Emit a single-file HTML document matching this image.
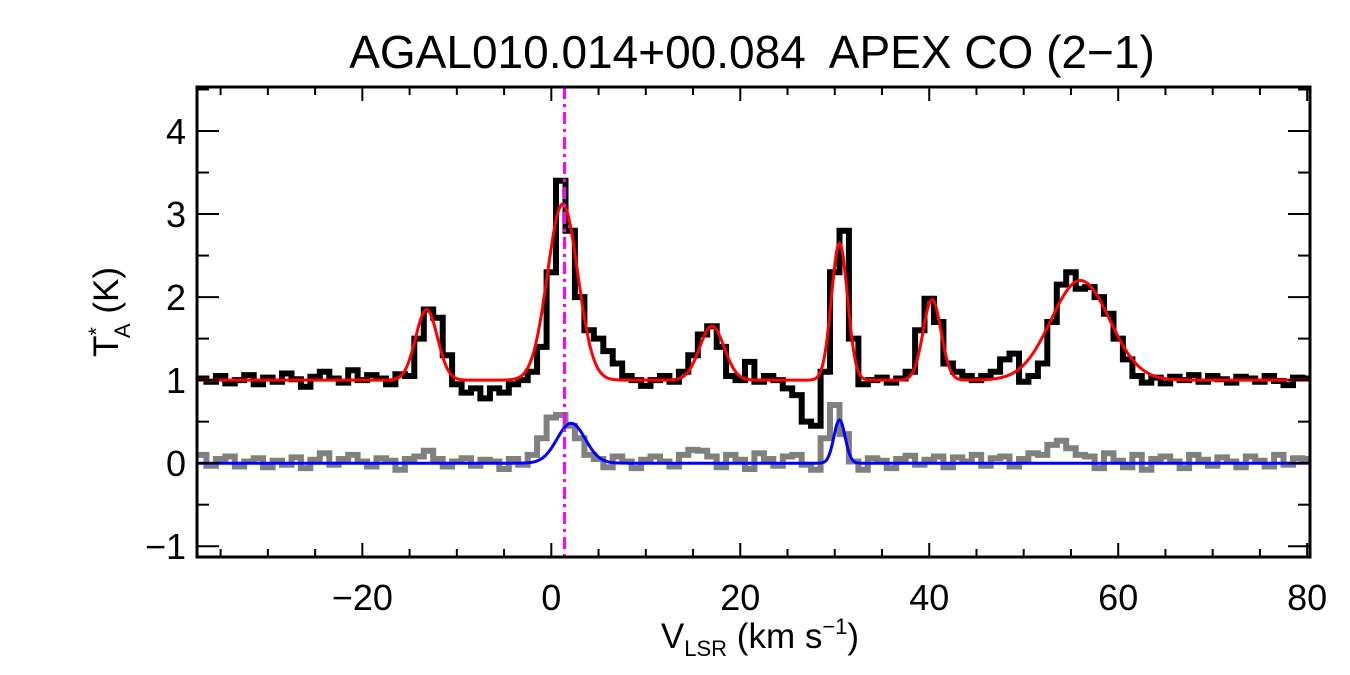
<!DOCTYPE html>
<html><head><meta charset="utf-8"><style>
html,body{margin:0;padding:0;background:#fff;}
svg{display:block;font-family:"Liberation Sans",Arial,sans-serif;}
</style></head><body>
<svg id="chart" width="1350" height="675" viewBox="0 0 1350 675" xmlns="http://www.w3.org/2000/svg">
<text x="752" y="68" font-size="46" text-anchor="middle" xml:space="preserve">AGAL010.014+00.084  APEX CO (2−1)</text>
<g transform="translate(118,312) rotate(-90)">
<text x="0" y="0" font-size="35" text-anchor="middle">T<tspan font-size="22" dy="-14">*</tspan><tspan font-size="22" dx="-11" dy="26">A</tspan><tspan dy="-12"> (K)</tspan></text>
</g>
<text x="760" y="648" font-size="35" text-anchor="middle">V<tspan font-size="22" dy="8">LSR</tspan><tspan dy="-8"> (km s</tspan><tspan font-size="22" dy="-14">−1</tspan><tspan dy="14">)</tspan></text>
<g id="plot"></g>
</svg>
<script>
// data
const velStart = -37; // km/s, 1 km/s channels
const spectrumObs = [1.02,0.98,1.05,0.96,1.00,1.06,0.95,1.03,0.98,1.08,1.01,0.92,1.04,1.10,1.02,0.97,1.12,1.00,1.06,1.02,0.95,1.07,1.05,
1.50,1.85,1.75,1.30,0.95,0.85,0.90,0.78,0.90,0.85,0.95,1.00,1.10,1.40,2.30,3.40,2.80,2.00,1.60,1.50,1.35,1.20,1.05,
1.00,0.93,1.00,1.05,0.98,1.10,1.30,1.55,1.65,1.40,1.05,1.00,1.22,0.98,1.05,1.00,0.90,0.82,0.50,0.45,1.10,2.30,2.80,1.50,
0.95,1.00,1.03,0.97,1.02,1.10,1.60,1.98,1.70,1.20,1.10,1.05,1.00,1.05,1.10,1.25,1.32,0.98,1.05,1.20,1.70,2.15,2.30,2.10,2.12,2.00,1.80,1.50,1.25,1.05,
0.97,1.03,0.96,1.04,1.00,1.06,0.98,1.05,1.01,0.97,1.04,1.02,0.98,1.05,0.99,0.94,1.03,1.02];
const residualObs = [0.10,-0.03,0.05,0.08,-0.04,0.02,0.06,-0.05,0.03,-0.02,0.07,-0.06,0.04,0.12,-0.02,0.05,0.10,0.02,-0.04,0.06,0.03,-0.08,0.05,
0.08,0.15,0.05,-0.04,0.02,0.06,-0.03,0.04,0.02,-0.07,0.05,-0.02,0.10,0.30,0.55,0.58,0.45,0.30,0.10,0.05,-0.05,0.08,0.02,
-0.06,0.04,0.08,0.02,-0.04,0.10,0.16,0.15,0.08,-0.05,0.10,0.04,-0.07,0.12,0.05,-0.03,0.08,0.10,-0.02,-0.08,0.30,0.70,0.35,0.02,
-0.08,0.06,0.03,-0.06,0.05,0.09,-0.02,0.04,0.08,-0.05,0.07,0.02,0.10,-0.03,0.06,0.08,-0.04,0.05,0.12,0.10,0.22,0.27,0.18,0.10,0.08,-0.06,0.12,0.03,-0.05,0.10,
-0.08,0.05,0.08,0.02,-0.06,0.10,0.04,-0.03,0.07,0.02,-0.05,0.08,0.03,-0.04,0.10,-0.02,0.06,0.05];
const fitBaseline = 1.0;
const fitAmps = [0.85,2.12,0.65,1.65,0.97,1.20];
const fitCenters = [-13.2,1.2,17.0,30.5,40.3,56.0];
const fitSigmas = [1.15,1.6,1.3,0.85,0.95,3.1];
const blueAmps = [0.48,0.52];
const blueCenters = [2.1,30.5];
const blueSigmas = [1.5,0.6];
const markerVel = 1.4;
const xTicks = [-20,0,20,40,60,80];
const xTickLabels = ["−20","0","20","40","60","80"];
const yTicks = [-1,0,1,2,3,4];
const yTickLabels = ["−1","0","1","2","3","4"];

const L=197,R=1310,T=87,B=557;
const xMin=-37.5,xMax=80.3,yMin=-1.13,yMax=4.53;
const xs=v=>L+(v-xMin)/(xMax-xMin)*(R-L);
const ys=v=>B-(v-yMin)/(yMax-yMin)*(B-T);
const NS="http://www.w3.org/2000/svg";
const plot=document.getElementById('plot');
function mk(tag,attrs){const e=document.createElementNS(NS,tag);for(const k in attrs)e.setAttribute(k,attrs[k]);return e;}

const clip=mk('clipPath',{id:'cp'});clip.appendChild(mk('rect',{x:L,y:T,width:R-L,height:B-T}));plot.appendChild(clip);

function stepPath(arr){let d='';arr.forEach((v,i)=>{const x0=xs(velStart+i-0.5),x1=xs(velStart+i+0.5),y=ys(v);d+=(i?'L':'M')+x0.toFixed(1)+','+y.toFixed(1)+'L'+x1.toFixed(1)+','+y.toFixed(1);});return d;}
function gaussPath(base,A,C,S){let d='';for(let v=xMin;v<=xMax;v+=0.1){let y=base;for(let k=0;k<A.length;k++)y+=A[k]*Math.exp(-0.5*Math.pow((v-C[k])/S[k],2));d+=(d?'L':'M')+xs(v).toFixed(1)+','+ys(y).toFixed(1);}return d;}

const g=mk('g',{'clip-path':'url(#cp)'});plot.appendChild(g);
const res=mk('path',{d:stepPath(residualObs),fill:'none',stroke:'#808080','stroke-width':6});


g.appendChild(res);
const spec=mk('path',{d:stepPath(spectrumObs),fill:'none',stroke:'#000','stroke-width':6});


g.appendChild(spec);
const blue=mk('path',{d:gaussPath(0,blueAmps,blueCenters,blueSigmas),fill:'none',stroke:'#0000ff','stroke-width':3});


g.appendChild(blue);
const red=mk('path',{d:gaussPath(fitBaseline,fitAmps,fitCenters,fitSigmas),fill:'none',stroke:'#ff0000','stroke-width':3});


g.appendChild(red);
const mline=mk('line',{x1:xs(markerVel),x2:xs(markerVel),y1:T,y2:B,stroke:'#ff00ff','stroke-width':3,'stroke-dasharray':'12,5,3,5'});


plot.appendChild(mline);

// ticks
for(let v=-35;v<=80;v+=5){const major=(v%20===0);const len=major?14:8;const x=xs(v);
 plot.appendChild(mk('line',{x1:x,x2:x,y1:B,y2:B-len,stroke:'#000','stroke-width':2}));
 plot.appendChild(mk('line',{x1:x,x2:x,y1:T,y2:T+len,stroke:'#000','stroke-width':2}));}
for(let v=-1;v<=4.5;v+=0.5){const major=Number.isInteger(v);const len=major?22:12;const y=ys(v);
 plot.appendChild(mk('line',{x1:L,x2:L+len,y1:y,y2:y,stroke:'#000','stroke-width':2}));
 plot.appendChild(mk('line',{x1:R,x2:R-len,y1:y,y2:y,stroke:'#000','stroke-width':2}));}
xTicks.forEach((v,i)=>{const t=mk('text',{x:xs(v),y:610,'font-size':36,'text-anchor':'middle'});t.textContent=xTickLabels[i];
 
 
 plot.appendChild(t);});
yTicks.forEach((v,i)=>{const t=mk('text',{x:186,y:ys(v)+13,'font-size':36,'text-anchor':'end'});t.textContent=yTickLabels[i];
 
 
 plot.appendChild(t);});
const frame=mk('rect',{x:L,y:T,width:R-L,height:B-T,fill:'none',stroke:'#000','stroke-width':3});


plot.appendChild(frame);
</script>
</body></html>
